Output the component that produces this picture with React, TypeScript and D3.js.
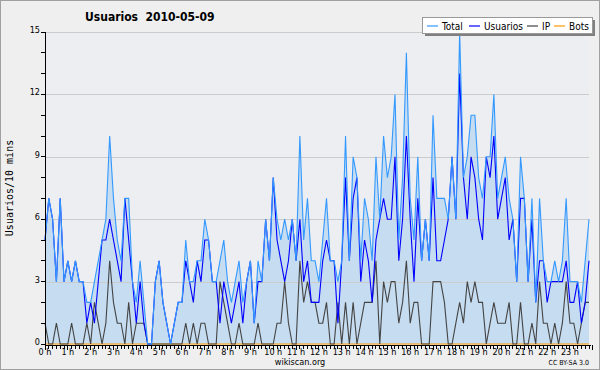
import { useEffect, useRef } from "react";
import * as d3 from "d3";

// 10-minute buckets, 2010-05-09 (144 per day)
const total = [
  5, 7, 6, 3, 7, 3, 4, 3, 4, 3, 3, 2, 2, 3, 4, 5, 6, 10, 7, 5, 4, 7, 7, 3,
  2, 4, 2, 0, 0, 3, 4, 2, 1, 0, 1, 2, 2, 5, 3, 3, 4, 4, 6, 5, 3, 3, 4, 5,
  3, 2, 3, 4, 2, 3, 4, 1, 4, 3, 6, 4, 8, 6, 5, 6, 5, 6, 4, 10, 5, 7, 4, 4,
  3, 5, 7, 4, 4, 3, 4, 10, 4, 9, 8, 4, 7, 6, 4, 9, 6, 10, 8, 9, 12, 5, 8, 14,
  7, 5, 9, 4, 6, 4, 11, 7, 7, 7, 6, 9, 6, 15, 8, 9, 11, 11, 8, 7, 9, 9, 12, 7,
  8, 9, 7, 6, 3, 9, 7, 3, 7, 2, 7, 4, 3, 3, 4, 3, 4, 7, 3, 3, 3, 2, 4, 6,
];
const usuarios = [
  5, 7, 6, 3, 7, 3, 4, 3, 4, 3, 3, 1, 2, 1, 3, 5, 5, 6, 5, 4, 3, 7, 5, 3,
  1, 3, 1, 0, 0, 3, 4, 2, 1, 0, 1, 2, 2, 4, 3, 2, 4, 3, 5, 5, 3, 3, 1, 3,
  2, 1, 2, 3, 1, 3, 4, 1, 3, 3, 6, 4, 8, 5, 4, 3, 4, 6, 4, 6, 3, 4, 2, 2,
  2, 4, 5, 4, 4, 1, 4, 8, 4, 7, 8, 3, 5, 4, 2, 5, 6, 7, 6, 6, 9, 4, 6, 10,
  6, 3, 7, 4, 6, 4, 8, 4, 4, 5, 6, 9, 6, 13, 8, 6, 9, 8, 6, 5, 9, 8, 10, 6,
  7, 8, 5, 6, 3, 7, 7, 3, 6, 2, 4, 4, 2, 3, 3, 3, 3, 4, 2, 2, 3, 1, 2, 4,
];
const ip = [
  1, 0, 0, 1, 0, 0, 0, 1, 0, 0, 0, 1, 0, 2, 1, 0, 1, 4, 2, 1, 1, 0, 2, 0,
  1, 1, 1, 0, 0, 0, 0, 0, 0, 0, 0, 0, 0, 1, 0, 1, 0, 1, 1, 0, 0, 0, 3, 2,
  1, 0, 0, 1, 0, 0, 0, 0, 1, 0, 0, 0, 0, 1, 1, 3, 1, 0, 0, 4, 2, 3, 2, 2,
  1, 1, 2, 0, 0, 2, 0, 2, 0, 2, 0, 1, 2, 2, 2, 4, 0, 3, 2, 3, 3, 1, 2, 4,
  1, 2, 2, 0, 0, 0, 3, 3, 3, 2, 0, 0, 1, 2, 1, 3, 2, 3, 2, 2, 0, 1, 2, 1,
  1, 1, 2, 0, 0, 2, 0, 0, 1, 0, 3, 1, 1, 0, 1, 0, 1, 3, 1, 1, 0, 1, 2, 2,
];
const bots = [
  0, 0, 0, 0, 0, 0, 0, 0, 0, 0, 0, 0, 0, 0, 0, 0, 0, 0, 0, 0, 0, 0, 0, 0,
  0, 0, 0, 0, 0, 0, 0, 0, 0, 0, 0, 0, 0, 0, 0, 0, 0, 0, 0, 0, 0, 0, 0, 0,
  0, 0, 0, 0, 0, 0, 0, 0, 0, 0, 0, 0, 0, 0, 0, 0, 0, 0, 0, 0, 0, 0, 0, 0,
  0, 0, 0, 0, 0, 0, 0, 0, 0, 0, 0, 0, 0, 0, 0, 0, 0, 0, 0, 0, 0, 0, 0, 0,
  0, 0, 0, 0, 0, 0, 0, 0, 0, 0, 0, 0, 0, 0, 0, 0, 0, 0, 0, 0, 0, 0, 0, 0,
  0, 0, 0, 0, 0, 0, 0, 0, 0, 0, 0, 0, 0, 0, 0, 0, 0, 0, 0, 0, 0, 0, 0, 0,
];

const hourLabels = [
  "0 h", "1 h", "2 h", "3 h", "4 h", "5 h", "6 h", "7 h", "8 h", "9 h", "10 h", "11 h",
  "12 h", "13 h", "14 h", "15 h", "16 h", "17 h", "18 h", "19 h", "20 h", "21 h", "22 h", "23 h",
];
const yTickLabels = [0, 3, 6, 9, 12, 15];

const series = [
  { name: "Total", values: total, color: "#3399ff" },
  { name: "Usuarios", values: usuarios, color: "#0000ff" },
  { name: "IP", values: ip, color: "#444444" },
  { name: "Bots", values: bots, color: "#ff9900" },
];

export default function App() {
  const ref = useRef<SVGSVGElement>(null);

  useEffect(() => {
    document.body.style.margin = "0";
    if (!ref.current) return;
    const svg = d3.select(ref.current);
    svg.selectAll("*").remove();

    const font = "'DejaVu Sans Condensed', 'DejaVu Sans', sans-serif";
    const left = 45, right = 589, top = 32, bottom = 344;

    const x = d3.scaleLinear().domain([0, total.length - 1]).range([left, right]);
    const y = d3.scaleLinear().domain([0, 15]).range([bottom, top]);

    // background + frame
    svg.append("rect").attr("x", 0.5).attr("y", 0.5).attr("width", 599).attr("height", 369)
      .attr("fill", "#efefef").attr("stroke", "#a0a0a0");
    svg.append("rect").attr("x", left).attr("y", top).attr("width", right - left).attr("height", bottom - top)
      .attr("fill", "#eceef1");

    // area under Total
    const area = d3.area<number>().x((_, i) => x(i)).y0(y(0)).y1((d) => y(d));
    svg.append("path").datum(total).attr("d", area).attr("fill", "#c6dcf0");

    // grid
    svg.append("g").selectAll("line").data(yTickLabels.slice(1)).join("line")
      .attr("x1", left).attr("x2", right)
      .attr("y1", (d) => Math.round(y(d)) + 0.5).attr("y2", (d) => Math.round(y(d)) + 0.5)
      .attr("stroke", "#cccccc");

    // lines
    const line = d3.line<number>().x((_, i) => x(i)).y((d) => y(d));
    svg.append("g").selectAll("path").data(series.slice().reverse()).join("path")
      .attr("d", (s) => line(s.values) || "")
      .attr("fill", "none").attr("stroke", (s) => s.color).attr("stroke-width", 1.1);

    // axes
    const ax = svg.append("g").attr("stroke", "#000").attr("shape-rendering", "crispEdges");
    ax.append("line").attr("x1", left).attr("x2", left).attr("y1", top).attr("y2", bottom + 1);
    ax.append("line").attr("x1", left).attr("x2", right + 2).attr("y1", bottom + 1).attr("y2", bottom + 1);
    ax.selectAll(".yt").data(d3.range(0, 16)).join("line").attr("class", "yt")
      .attr("x1", left - 4).attr("x2", left).attr("y1", (d) => y(d)).attr("y2", (d) => y(d));
    ax.selectAll(".xt").data(d3.range(0, total.length + 1)).join("line").attr("class", "xt")
      .attr("x1", (d) => x(d)).attr("x2", (d) => x(d))
      .attr("y1", bottom + 1).attr("y2", (d) => bottom + (d % 6 === 0 ? 6 : 5));

    svg.append("g").selectAll("text").data(yTickLabels).join("text")
      .attr("x", left - 5).attr("y", (d) => y(d)).attr("dy", "0.1em")
      .attr("text-anchor", "end").attr("font-family", font).attr("font-size", 9)
      .text((d) => d);

    svg.append("g").selectAll("text").data(hourLabels).join("text")
      .attr("x", (_, i) => x(i * 6)).attr("y", 355)
      .attr("text-anchor", "middle").attr("font-family", font).attr("font-size", 9)
      .text((d) => d);

    // titles
    svg.append("text").attr("x", 85).attr("y", 21).attr("font-family", font)
      .attr("font-size", 12).attr("font-weight", "bold").style("white-space", "pre")
      .text("Usuarios  2010-05-09");
    svg.append("text").attr("transform", "translate(13,188) rotate(-90)")
      .attr("text-anchor", "middle").attr("font-family", "'DejaVu Sans Mono', monospace")
      .attr("font-size", 10).text("Usuarios/10 mins");
    svg.append("text").attr("x", 300).attr("y", 365).attr("text-anchor", "middle")
      .attr("font-family", font).attr("font-size", 9).text("wikiscan.org");
    svg.append("text").attr("x", 589).attr("y", 365).attr("text-anchor", "end")
      .attr("font-family", font).attr("font-size", 7).text("CC BY-SA 3.0");

    // legend
    const lg = svg.append("g");
    lg.append("rect").attr("x", 425).attr("y", 20).attr("width", 170).attr("height", 16).attr("fill", "#808080");
    lg.append("rect").attr("x", 422.5).attr("y", 17.5).attr("width", 170).attr("height", 16)
      .attr("fill", "#fff").attr("stroke", "#999");
    const itemX = [427, 469, 527, 554];
    const item = lg.selectAll("g.it").data(series).join("g").attr("class", "it")
      .attr("transform", (_, i) => `translate(${itemX[i]},26)`);
    item.append("line").attr("x1", 0).attr("x2", 11).attr("y1", 0).attr("y2", 0)
      .attr("stroke", (s) => s.color).attr("stroke-width", 1.2);
    item.append("text").attr("x", 15).attr("y", 3.5).attr("font-family", font).attr("font-size", 10)
      .text((s) => s.name);
  }, []);

  return <svg ref={ref} width={600} height={370} style={{ display: "block" }} />;
}
